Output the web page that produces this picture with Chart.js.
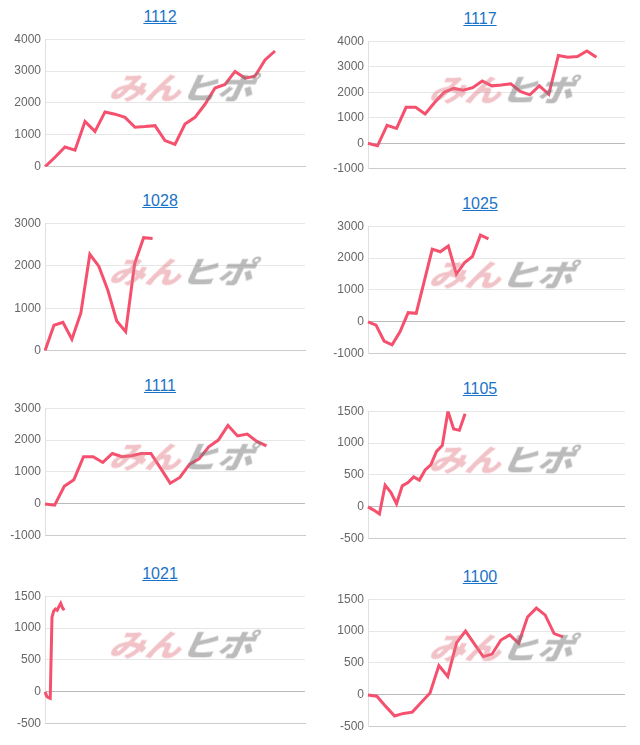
<!DOCTYPE html>
<html><head><meta charset="utf-8">
<script src="https://cdn.jsdelivr.net/npm/chart.js@4"></script>
<style>
body{margin:0;background:#fff;font-family:"Liberation Sans",Arial,sans-serif;}
#grid{position:relative;width:640px;height:745px;}
.cell{position:absolute;width:320px;height:185px;}
.title{position:absolute;left:0;width:320px;text-align:center;font-size:16px;color:#1a73c8;text-decoration:underline;}
canvas{position:absolute;left:0;}
.wm{position:absolute;font-weight:900;font-style:italic;font-size:36px;letter-spacing:0px;font-family:"Noto Sans CJK JP",sans-serif;pointer-events:none;line-height:1;transform:skewX(-10deg) scaleY(0.85);}
.wm .a{color:rgba(225,120,130,0.45);} .wm .b{color:rgba(120,120,120,0.5);}
</style></head><body><div id="grid"></div>
<script>
const names=["1112","1117","1028","1025","1111","1105","1021","1100"];
const counts=[27,28,30,33,28,46,150,30];
const mins=[0,-1000,0,-1000,-1000,-500,-500,-500];
const maxs=[4000,4000,3000,3000,3000,1500,1500,1500];
const steps=[1000,1000,1000,1000,1000,500,500,500];
const s1112=[0,300,620,520,1420,1110,1720,1650,1550,1240,1260,1290,820,700,1340,1550,1960,2470,2580,2990,2780,2840,3350,3630];
const s1117=[0,-100,700,580,1410,1410,1150,1600,2000,2150,2080,2180,2440,2250,2280,2330,2030,1900,2250,1920,3440,3370,3400,3620,3370];
const s1028=[0,600,670,270,890,2270,1990,1430,700,450,2050,2660,2640];
const s1025=[0,-100,-600,-720,-300,290,270,1270,2280,2200,2380,1500,1850,2050,2720,2600];
const s1111=[0,-40,550,760,1480,1480,1300,1580,1480,1510,1580,1580,1120,650,830,1240,1410,1790,2000,2460,2130,2190,1960,1820];
const s1105=[0,-50,-110,340,230,50,330,380,470,420,580,660,870,960,1500,1220,1200,1460];
const s1021=[0,-70,-90,-100,1170,1270,1300,1280,1340,1390,1320,1280];
const s1100=[0,-20,-180,-330,-290,-270,-120,30,460,290,820,1000,800,600,640,860,940,810,1220,1360,1250,960,910];
const series=[s1112,s1117,s1028,s1025,s1111,s1105,s1021,s1100];
const titleTops=[8,10,192,195,377,380,565,568];
const grid=document.getElementById('grid');
names.forEach((n,i)=>{
  const col=i%2,row=Math.floor(i/2);
  const cell=document.createElement('div');cell.className='cell';
  cell.style.left=(col*320)+'px';cell.style.top=(row*185)+'px';
  const t=document.createElement('div');t.className='title';t.textContent=n;
  t.style.top=(titleTops[i]-row*185)+'px';cell.appendChild(t);
  const c=document.createElement('canvas');c.width=310;c.height=150;
  c.style.width='310px';c.style.height='150px';c.style.top=(titleTops[i]-row*185+20)+'px';
  cell.appendChild(c);
  const w=document.createElement('div');w.className='wm';
  w.innerHTML='<span class="a">みん</span><span class="b">ヒポ</span>';
  w.style.left='110px';w.style.top=(titleTops[i]-row*185+60)+'px';
  cell.appendChild(w);
  grid.appendChild(cell);
  const labels=[];for(let k=0;k<counts[i];k++)labels.push(String(k+1));
  new Chart(c,{type:'line',data:{labels,datasets:[{data:series[i],borderColor:'#f5506e',borderWidth:3,pointRadius:0,tension:0,fill:false}]},
  options:{responsive:false,animation:false,layout:{padding:{right:5,top:0,bottom:2}},
    plugins:{legend:{display:false},tooltip:{enabled:false}},
    scales:{x:{offset:false,ticks:{display:false},grid:{display:false},border:{color:'#ccc'}},
      y:{min:mins[i],max:maxs[i],ticks:{stepSize:steps[i],color:'#666',font:{size:12,family:'Liberation Sans'},padding:4,callback:v=>String(v)},
        grid:{color:ctx=>ctx.tick&&ctx.tick.value===0?'#bbb':'#e6e6e6',drawTicks:false},border:{color:'#e0e0e0'},
        afterFit:s=>{s.width=(i%2?48:45);}}}}});
});
</script></body></html>
